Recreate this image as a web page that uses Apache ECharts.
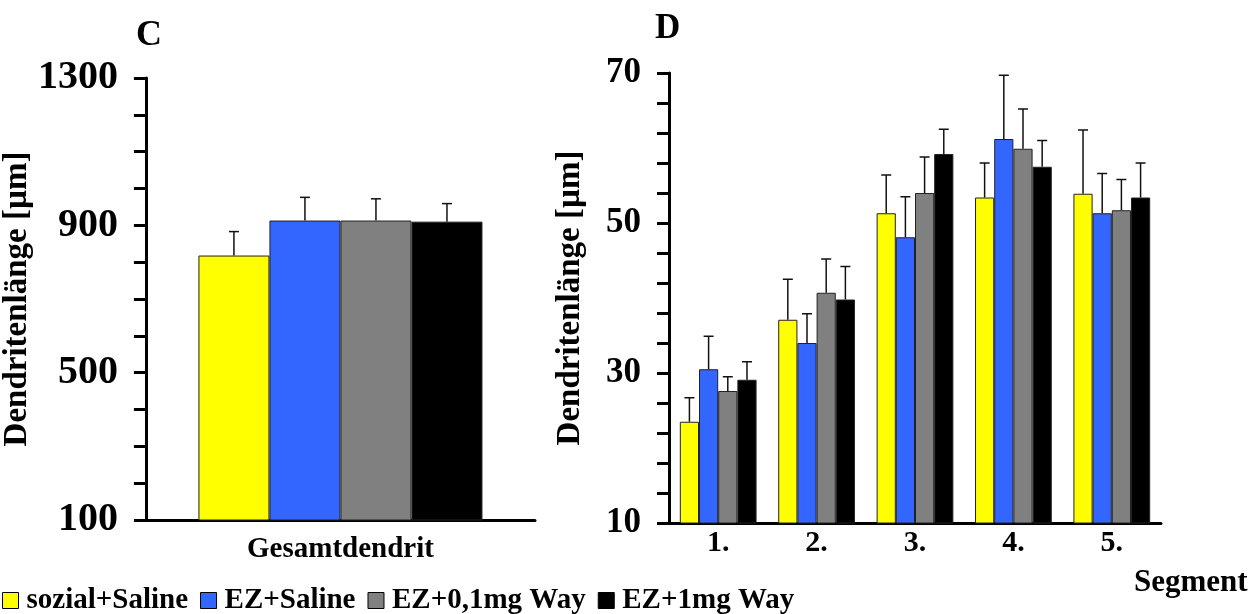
<!DOCTYPE html>
<html lang="de">
<head>
<meta charset="utf-8">
<title>Dendritenlänge</title>
<script src="https://cdn.jsdelivr.net/npm/echarts@6/dist/echarts.min.js"></script>
<style>
  html, body { margin: 0; padding: 0; background: #fff; }
  #main { width: 1256px; height: 614px; }
</style>
</head>
<body>
<div id="main"></div>
<script type="text/javascript">
    // Gruppen und Farben
    var groups = ['sozial+Saline', 'EZ+Saline', 'EZ+0,1mg Way', 'EZ+1mg Way'];
    var colors = ['#ffff00', '#3366ff', '#808080', '#000000'];

    // C: Gesamtdendrit
    var totalCat = ['Gesamtdendrit'];
    var totalMean = [818, 913, 913, 910];
    var totalSem = [65, 63, 59, 49];

    // D: Segmente
    var segments = ['1.', '2.', '3.', '4.', '5.'];
    var segMean = [
        [23.5, 37.1, 51.3, 53.4, 53.9],   // sozial+Saline
        [30.5, 34.0, 48.1, 61.2, 51.3],   // EZ+Saline
        [27.6, 40.7, 54.0, 59.9, 51.7],   // EZ+0,1mg Way
        [29.1, 39.8, 59.2, 57.5, 53.4]    // EZ+1mg Way
    ];
    var segSem = [
        [3.2, 5.4, 5.1, 4.6, 8.5],
        [4.4, 3.9, 5.4, 8.5, 5.3],
        [1.9, 4.5, 4.8, 5.3, 4.1],
        [2.4, 4.4, 3.3, 3.5, 4.6]
    ];

    var font = 'Liberation Serif';
    var catGap = [0.27, 0.22];

    // Fehlerbalken (nur nach oben) über custom series
    function errorSeries(axisIdx, k, data) {
        return {
            type: 'custom',
            name: groups[k] + ' SEM',
            xAxisIndex: axisIdx,
            yAxisIndex: axisIdx,
            z: 5,
            silent: true,
            data: data,
            renderItem: function (params, api) {
                var i = api.value(0);
                var mean = api.value(1);
                var top = mean + api.value(2);
                var band = api.size([1, 0])[0];
                var groupW = band * (1 - catGap[axisIdx]);
                var barW = groupW / groups.length;
                var c = api.coord([i, mean]);
                var x = c[0] - groupW / 2 + barW * (k + 0.5);
                var yTop = api.coord([i, top])[1];
                var style = { stroke: '#111', lineWidth: 1.5 };
                return {
                    type: 'group',
                    children: [
                        { type: 'line', shape: { x1: x, y1: c[1], x2: x, y2: yTop }, style: style },
                        { type: 'line', shape: { x1: x - 5, y1: yTop, x2: x + 5, y2: yTop }, style: style }
                    ]
                };
            }
        };
    }

    var series = [];
    groups.forEach(function (g, k) {
        series.push({
            name: g,
            type: 'bar',
            xAxisIndex: 0,
            yAxisIndex: 0,
            barGap: '0%',
            barCategoryGap: '27%',
            itemStyle: { color: colors[k], borderColor: '#222', borderWidth: 1 },
            data: [totalMean[k]]
        });
        series.push(errorSeries(0, k, [[0, totalMean[k], totalSem[k]]]));
    });
    groups.forEach(function (g, k) {
        series.push({
            name: g,
            type: 'bar',
            xAxisIndex: 1,
            yAxisIndex: 1,
            barGap: '0%',
            barCategoryGap: '22%',
            itemStyle: { color: colors[k], borderColor: '#222', borderWidth: 1 },
            data: segMean[k]
        });
        series.push(errorSeries(1, k, segMean[k].map(function (v, i) {
            return [i, v, segSem[k][i]];
        })));
    });

    function yAxis(gridIdx, min, max, interval, minorSplit, labelSize, nameGap) {
        return {
            type: 'value',
            gridIndex: gridIdx,
            min: min,
            max: max,
            interval: interval,
            name: 'Dendritenlänge [µm]',
            nameLocation: 'middle',
            nameRotate: 90,
            nameGap: nameGap,
            nameTextStyle: { fontFamily: font, fontWeight: 'bold', fontSize: 33, color: '#000' },
            axisLine: { show: true, lineStyle: { color: '#000', width: 3 } },
            axisTick: { show: true, inside: false, length: 12, lineStyle: { color: '#000', width: 3 } },
            minorTick: { show: true, splitNumber: minorSplit, length: 12, lineStyle: { color: '#000', width: 3 } },
            splitLine: { show: false },
            axisLabel: {
                fontFamily: font, fontWeight: 'bold', fontSize: labelSize, color: '#000', margin: 28,
                formatter: function (v) { return String(v); }
            }
        };
    }

    var myChart = echarts.init(document.getElementById('main'));

    var option = {
        animation: false,
        backgroundColor: '#fff',
        title: [
            { text: 'C', left: 131, top: 13, textStyle: { fontFamily: font, fontWeight: 'bold', fontSize: 36, color: '#000' } },
            { text: 'D', left: 650, top: 6, textStyle: { fontFamily: font, fontWeight: 'bold', fontSize: 35, color: '#000' } },
            { text: 'Segment', left: 1129, top: 562, textStyle: { fontFamily: font, fontWeight: 'bold', fontSize: 31, color: '#000' } }
        ],
        legend: {
            data: groups,
            left: 2,
            top: 586,
            padding: 0,
            itemWidth: 16,
            itemHeight: 16,
            itemGap: 12,
            icon: 'rect',
            selectedMode: false,
            itemStyle: { borderColor: '#000', borderWidth: 1 },
            textStyle: { fontFamily: font, fontWeight: 'bold', fontSize: 29, color: '#000', padding: [0, 0, 0, 3] }
        },
        grid: [
            { left: 143, top: 78, width: 392, height: 442 },
            { left: 669, top: 73, width: 492, height: 450 }
        ],
        xAxis: [
            {
                type: 'category',
                gridIndex: 0,
                data: totalCat,
                axisLine: { show: true, lineStyle: { color: '#000', width: 3 } },
                axisTick: { show: false },
                axisLabel: { fontFamily: font, fontWeight: 'bold', fontSize: 29, color: '#000', margin: 15 }
            },
            {
                type: 'category',
                gridIndex: 1,
                data: segments,
                axisLine: { show: true, lineStyle: { color: '#000', width: 3 } },
                axisTick: { show: false },
                axisLabel: { fontFamily: font, fontWeight: 'bold', fontSize: 30, color: '#000', margin: 5 }
            }
        ],
        yAxis: [
            yAxis(0, 100, 1300, 400, 4, 40, 100),
            yAxis(1, 10, 70, 20, 5, 35, 82)
        ],
        series: series
    };

    myChart.setOption(option);
</script>
</body>
</html>
